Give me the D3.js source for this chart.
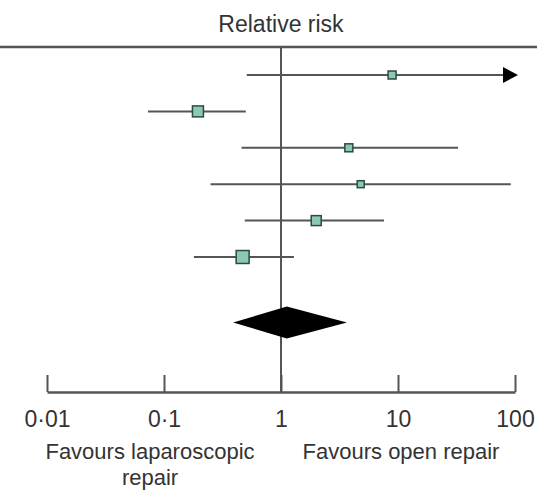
<!DOCTYPE html>
<html>
<head>
<meta charset="utf-8">
<script src="https://cdn.jsdelivr.net/npm/d3@7"></script>
<style>
  body { margin: 0; background: #fff; }
  svg text { font-family: "Liberation Sans", Arial, sans-serif; fill: #333; }
</style>
</head>
<body>
<div id="viz"></div>
<script>
// study estimates (relative risk with 95% CI)
const studies = ["s1", "s2", "s3", "s4", "s5", "s6"];
const rr = [8.9, 0.195, 3.8, 4.8, 2.0, 0.47];
const lower = [0.51, 0.073, 0.46, 0.25, 0.49, 0.18];
const upper = [150, 0.50, 32.6, 92, 7.6, 1.29];
const weights = [11.3, 21.3, 11.3, 8.6, 17.6, 29.8];

// pooled estimate
const pooled = {rr: 1.12, lower: 0.39, upper: 3.66};

const tickValues = [0.01, 0.1, 1, 10, 100];
const tickLabels = ["0·01", "0·1", "1", "10", "100"];

const width = 537
const height = 492
const fontSize = 23

const svg = d3.select("#viz")
    .append("svg")
    .attr("width", width)
    .attr("height", height);

// log x scale, one decade ~117px
const x = d3.scaleLog().domain([0.01, 100]).range([47, 515]);

// row positions
const y = d3.scaleLinear().domain([0, 5]).range([75, 257]);
const pooledRow = 6.8;

// square size from weight
const size = d3.scaleSqrt().domain([0, 30]).range([0, 13]);

const axisY = 392;
const topY = 47;

// header
svg.append("text")
    .attr("x", x(1))
    .attr("y", 32)
    .attr("text-anchor", "middle")
    .attr("font-size", fontSize)
    .text("Relative risk");

svg.append("line")
    .attr("x1", 0).attr("x2", width)
    .attr("y1", topY).attr("y2", topY)
    .attr("stroke", "#555")
    .attr("stroke-width", 2.5);

// line of no effect
svg.append("line")
    .attr("x1", x(1)).attr("x2", x(1))
    .attr("y1", topY).attr("y2", axisY)
    .attr("stroke", "#555")
    .attr("stroke-width", 2);

// x axis (ticks pointing up)
const xAxis = d3.axisTop(x)
    .tickValues(tickValues)
    .tickFormat((d, i) => tickLabels[i])
    .tickSize(17)
    .tickSizeOuter(0);

const ax = svg.append("g")
    .attr("transform", "translate(0," + axisY + ")")
    .call(xAxis);
ax.select(".domain").attr("stroke", "#555").attr("stroke-width", 2.5);
ax.selectAll(".tick line").attr("stroke", "#555").attr("stroke-width", 2);
ax.selectAll(".tick text")
    .attr("y", 35)
    .attr("dy", 0)
    .attr("font-size", fontSize)
    .attr("font-family", "Liberation Sans, Arial, sans-serif")
    .attr("fill", "#333");

// axis captions
svg.append("text")
    .attr("x", 150).attr("y", 459)
    .attr("text-anchor", "middle")
    .attr("font-size", 22)
    .text("Favours laparoscopic");
svg.append("text")
    .attr("x", 150).attr("y", 485)
    .attr("text-anchor", "middle")
    .attr("font-size", 22)
    .text("repair");
svg.append("text")
    .attr("x", 401).attr("y", 459)
    .attr("text-anchor", "middle")
    .attr("font-size", 22)
    .text("Favours open repair");

// confidence intervals
const rows = studies.map((s, i) => ({id: s, i: i, rr: rr[i], lo: lower[i], hi: upper[i], w: weights[i]}));
const maxX = 100;

svg.append("g")
    .selectAll("line")
    .data(rows)
    .enter()
    .append("line")
    .attr("x1", d => x(d.lo))
    .attr("x2", d => x(Math.min(d.hi, maxX)))
    .attr("y1", d => y(d.i))
    .attr("y2", d => y(d.i))
    .attr("stroke", "#555")
    .attr("stroke-width", 2);

// arrow for intervals beyond the axis
svg.append("g")
    .selectAll("path")
    .data(rows.filter(d => d.hi > maxX))
    .enter()
    .append("path")
    .attr("d", d => {
        const xe = x(maxX) - 12, yc = y(d.i);
        return "M" + xe + "," + (yc - 8) + "L" + (xe + 15) + "," + yc + "L" + xe + "," + (yc + 8) + "Z";
    })
    .attr("fill", "#000");

// point estimates
svg.append("g")
    .selectAll("rect")
    .data(rows)
    .enter()
    .append("rect")
    .attr("x", d => x(d.rr) - size(d.w) / 2)
    .attr("y", d => y(d.i) - size(d.w) / 2)
    .attr("width", d => size(d.w))
    .attr("height", d => size(d.w))
    .attr("fill", "#8cc9b2")
    .attr("stroke", "#2e4a40")
    .attr("stroke-width", 1.5);

// pooled diamond
const py = y(pooledRow);
svg.append("path")
    .datum(pooled)
    .attr("d", d => "M" + x(d.lower) + "," + py +
        "L" + x(d.rr) + "," + (py - 16) +
        "L" + x(d.upper) + "," + py +
        "L" + x(d.rr) + "," + (py + 16) + "Z")
    .attr("fill", "#000");
</script>
</body>
</html>
